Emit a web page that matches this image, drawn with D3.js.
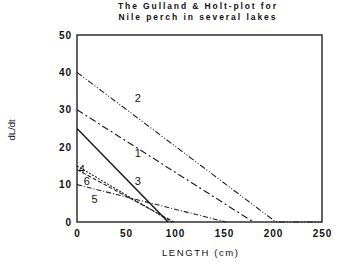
<!DOCTYPE html>
<html>
<head>
    <script src="https://d3js.org/d3.v7.min.js"></script>
    <style>
        body { margin: 0; background: #ffffff; }
        text { font-family: "Liberation Sans", Arial, sans-serif; fill: #111; }
        .tick-lab { font-size: 10px; font-weight: bold; letter-spacing: 1px; }
        .lab { font-size: 11px; }
        .title { font-size: 8.5px; font-weight: bold; }
    </style>
</head>
<body>
<svg id="chart" width="350" height="266"></svg>
<script>
    // series: [length, dL/dt] points
    var lineNames = ["2", "1", "3", "4", "6", "5"];
    var line2 = [[0, 40], [203, 0], [250, 0]];
    var line1 = [[0, 30], [180, 0]];
    var line3 = [[0, 25], [93, 0]];
    var line4 = [[0, 15], [97, 0]];
    var line6 = [[0, 14], [99, 0]];
    var line5 = [[0, 10], [152, 0]];
    var labelPos = [[62, 33], [62, 18.5], [62, 11], [5, 14.2], [10, 11], [18, 6]];
    var xTicks = [0, 50, 100, 150, 200, 250];
    var yTicks = [0, 10, 20, 30, 40, 50];

    var series = [line2, line1, line3, line4, line6, line5];
    var dashes = ["6,2,1,2,1,2", "7,3,2,3", null, "2,1.5", "4,2", "5,2,1,2"];
    var widths = [1.1, 1.2, 1.6, 1.1, 1.1, 1.1];

    var svg = d3.select("#chart");
    var x = d3.scaleLinear().domain([0, 250]).range([77, 322]);
    var y = d3.scaleLinear().domain([0, 50]).range([222, 35]);

    // frame
    svg.append("rect")
        .attr("x", x(0)).attr("y", y(50))
        .attr("width", x(250) - x(0)).attr("height", y(0) - y(50))
        .attr("fill", "none").attr("stroke", "#222").attr("stroke-width", 1.4);

    var line = d3.line().x(function(d) { return x(d[0]); }).y(function(d) { return y(d[1]); });

    svg.selectAll("path.series")
        .data(series)
        .enter()
        .append("path")
        .attr("class", "series")
        .attr("d", line)
        .attr("fill", "none")
        .attr("stroke", "#222")
        .attr("stroke-width", function(d, i) { return widths[i]; })
        .attr("stroke-dasharray", function(d, i) { return dashes[i]; });

    svg.selectAll("text.lab")
        .data(labelPos)
        .enter()
        .append("text")
        .attr("class", "lab")
        .attr("x", function(d) { return x(d[0]); })
        .attr("y", function(d) { return y(d[1]); })
        .attr("text-anchor", "middle")
        .attr("dy", "0.35em")
        .text(function(d, i) { return lineNames[i]; });

    // axes labels
    svg.selectAll("text.xt")
        .data(xTicks)
        .enter()
        .append("text")
        .attr("class", "xt tick-lab")
        .attr("x", function(d) { return x(d) + 0.5; })
        .attr("y", 237)
        .attr("text-anchor", "middle")
        .text(function(d) { return d; });

    svg.selectAll("text.yt")
        .data(yTicks)
        .enter()
        .append("text")
        .attr("class", "yt tick-lab")
        .attr("x", 72)
        .attr("y", function(d) { return y(d); })
        .attr("dy", "0.35em")
        .attr("text-anchor", "end")
        .text(function(d) { return d; });

    svg.append("text")
        .attr("x", 200).attr("y", 256)
        .attr("text-anchor", "middle")
        .attr("textLength", 76)
        .style("font-size", "9.5px")
        .text("LENGTH  (cm)");

    svg.append("text")
        .attr("transform", "translate(15,130) rotate(-90)")
        .attr("text-anchor", "middle")
        .style("font-size", "9.5px")
        .text("dL/dt");

    svg.append("text").attr("class", "title")
        .attr("x", 197).attr("y", 9)
        .attr("text-anchor", "middle")
        .attr("textLength", 158)
        .text("The Gulland & Holt-plot for");
    svg.append("text").attr("class", "title")
        .attr("x", 197).attr("y", 20)
        .attr("text-anchor", "middle")
        .attr("textLength", 157)
        .text("Nile perch in several lakes");
</script>
</body>
</html>
